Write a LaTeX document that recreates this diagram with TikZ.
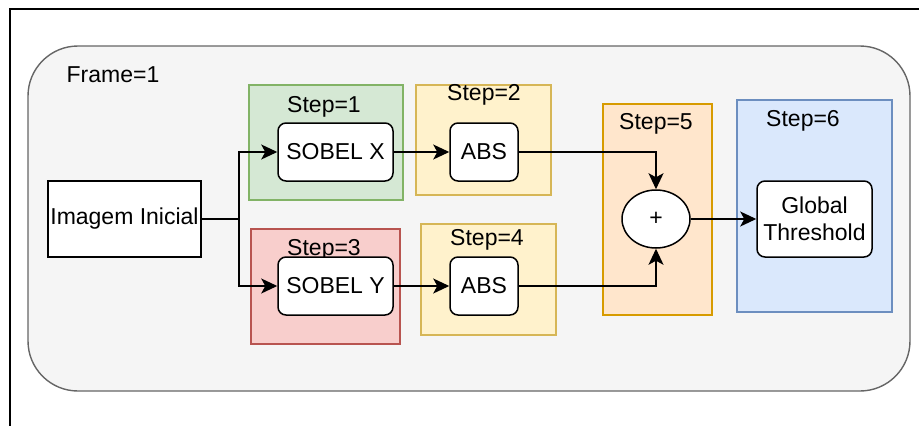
\documentclass[tikz,border=0pt]{standalone}
\usepackage{fontspec}
\setmainfont{Liberation Sans}
\usetikzlibrary{arrows.meta,shapes.geometric}
\definecolor{frfill}{HTML}{F5F5F5}
\definecolor{frdraw}{HTML}{666666}
\definecolor{gfill}{HTML}{D5E8D4}\definecolor{gdraw}{HTML}{82B366}
\definecolor{yfill}{HTML}{FFF2CC}\definecolor{ydraw}{HTML}{D6B656}
\definecolor{rfill}{HTML}{F8CECC}\definecolor{rdraw}{HTML}{B85450}
\definecolor{ofill}{HTML}{FFE6CC}\definecolor{odraw}{HTML}{D79B00}
\definecolor{bfill}{HTML}{DAE8FC}\definecolor{bdraw}{HTML}{6C8EBF}
\begin{document}
\begin{tikzpicture}[x=1pt,y=-1pt,
  txt/.style={font=\fontsize{23}{27.5}\selectfont},
  grp/.style={draw, line width=1.4pt, inner sep=0pt},
  proc/.style={txt, draw=black, fill=white, line width=1.5pt, rounded corners=8pt, inner sep=0pt, align=center},
  sqbox/.style={txt, draw=black, fill=white, line width=1.5pt, inner sep=0pt},
  lbl/.style={txt, anchor=base, inner sep=0pt},
  arr/.style={line width=1.5pt, -{Stealth[length=16pt,width=15pt,inset=4pt]}},
  conn/.style={line width=1.5pt}
]
\useasboundingbox (0,0) rectangle (919,426);
\begin{scope}
\clip (0,0) rectangle (919,426);
\node[draw=black, line width=1.6pt, minimum width=940, minimum height=450, inner sep=0pt, anchor=north west] (outer) at (9,8) {};
\end{scope}
\node[draw=frdraw, fill=frfill, line width=1.4pt, rounded corners=50pt, minimum width=882, minimum height=345, inner sep=0pt] (frame) at (469,218.5) {};
\node[lbl] (frlbl) at (113,82) {Frame=1};

\node[grp, draw=gdraw, fill=gfill, minimum width=154, minimum height=115] (g1) at (326,142.5) {};
\node[grp, draw=ydraw, fill=yfill, minimum width=135, minimum height=110] (g2) at (483.5,140) {};
\node[grp, draw=rdraw, fill=rfill, minimum width=149, minimum height=115] (g3) at (325.5,286.5) {};
\node[grp, draw=ydraw, fill=yfill, minimum width=135, minimum height=111] (g4) at (488.5,279.5) {};
\node[grp, draw=odraw, fill=ofill, minimum width=109, minimum height=211] (g5) at (657.5,209.5) {};
\node[grp, draw=bdraw, fill=bfill, minimum width=155, minimum height=212] (g6) at (814.5,206) {};

\node[lbl] (l1) at (324,112) {Step=1};
\node[lbl] (l2) at (484,100) {Step=2};
\node[lbl] (l3) at (324,255) {Step=3};
\node[lbl] (l4) at (487,245) {Step=4};
\node[lbl] (l5) at (656,129) {Step=5};
\node[lbl] (l6) at (803,126) {Step=6};

\node[sqbox, minimum width=153, minimum height=76] (img) at (124.5,219) {Imagem Inicial};
\node[proc, minimum width=115, minimum height=58] (sx) at (335.5,152) {SOBEL X};
\node[proc, minimum width=115, minimum height=58] (sy) at (335.5,286) {SOBEL Y};
\node[proc, minimum width=68, minimum height=58] (a1) at (484,152) {ABS};
\node[proc, minimum width=68, minimum height=58] (a2) at (484,286) {ABS};
\node[txt, ellipse, draw=black, fill=white, line width=1.5pt, minimum width=68, minimum height=58, inner sep=0pt] (plus) at (656,219) {+};
\node[proc, minimum width=115, minimum height=76] (gt) at (814.5,219) {Global\\Threshold};

\coordinate (j) at (239,219);
\draw[conn] (img.east) -- (j);
\draw[arr] (j) |- (sx.west);
\draw[arr] (j) |- (sy.west);
\draw[arr] (sx) -- (a1);
\draw[arr] (sy) -- (a2);
\draw[arr] (a1.east) -| (plus.north);
\draw[arr] (a2.east) -| (plus.south);
\draw[arr] (plus) -- (gt);
\end{tikzpicture}
\end{document}
